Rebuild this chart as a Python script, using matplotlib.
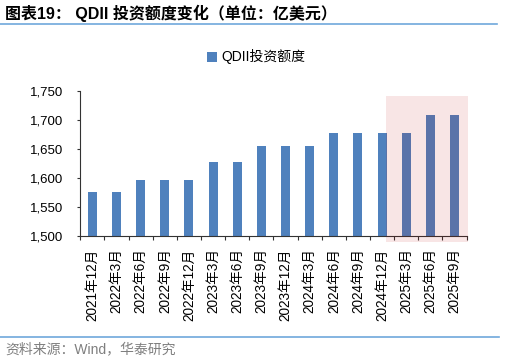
import matplotlib
matplotlib.use('Agg')
import matplotlib.pyplot as plt
from matplotlib.patches import Rectangle
from matplotlib.lines import Line2D
import numpy as np

plt.rcParams['font.family'] = ['Liberation Sans', 'Noto Sans CJK SC']

# data
periods = ['2021年12月', '2022年3月', '2022年6月', '2022年9月', '2022年12月',
           '2023年3月', '2023年6月', '2023年9月', '2023年12月', '2024年3月',
           '2024年6月', '2024年9月', '2024年12月', '2025年3月', '2025年6月',
           '2025年9月']
quota = [1575, 1575, 1597, 1597, 1597, 1627, 1627, 1655, 1655, 1655,
         1678, 1678, 1678, 1678, 1709, 1709]
yticks = [1500, 1550, 1600, 1650, 1700, 1750]

bar_color = '#4F81BD'
line_color = '#6FA8DC'

fig = plt.figure(figsize=(5.05, 3.61), dpi=100)
ax = fig.add_axes([0.159, 0.3463, 0.765, 0.4025])

x = np.arange(len(periods))
ax.bar(x, quota, width=0.37, color=bar_color, label='QDII投资额度', zorder=2)

ax.set_xlim(-0.5, len(periods) - 0.5)
ax.set_ylim(yticks[0], yticks[-1])
ax.set_yticks(yticks)
ax.set_yticklabels([f'{v:,}' for v in yticks], fontsize=9.5)

ax.set_xticks(x)
ax.set_xticklabels(periods, rotation=90, fontsize=9.8)
ax.tick_params(axis='x', which='major', length=0, pad=9)
ax.set_xticks(np.arange(-0.5, len(periods)), minor=True)
ax.tick_params(axis='x', which='minor', length=3, width=0.8, color='#333333', direction='out')
ax.tick_params(axis='y', length=2, width=0.8, color='#333333', pad=10)

for s in ['top', 'right']:
    ax.spines[s].set_visible(False)
for s in ['left', 'bottom']:
    ax.spines[s].set_color('#333333')
    ax.spines[s].set_linewidth(0.8)

# highlighted forecast area
ax.add_patch(Rectangle((12.15, 1490), 3.39, 251, facecolor='#C00000', alpha=0.1,
                       edgecolor='none', clip_on=False, zorder=3))

fig.legend(loc='center', bbox_to_anchor=(256 / 505, 1 - 57 / 361), frameon=False,
           fontsize=10, handlelength=0.7, handleheight=0.7, handletextpad=0.3)

fig.text(5 / 505, 1 - 13 / 361, '图表19： QDII 投资额度变化（单位：亿美元）',
         fontsize=11.5, fontweight='bold', va='center', ha='left')
fig.add_artist(Line2D([0, 497 / 505], [1 - 24 / 361] * 2, color=line_color, lw=1.2))
fig.add_artist(Line2D([0, 499 / 505], [1 - 336.5 / 361] * 2, color=line_color, lw=1.2))
fig.text(5 / 505, 1 - 349 / 361, '资料来源：Wind，华泰研究', fontsize=10,
         color='#7F7F7F', va='center', ha='left')

fig.savefig('out.png', dpi=100)
